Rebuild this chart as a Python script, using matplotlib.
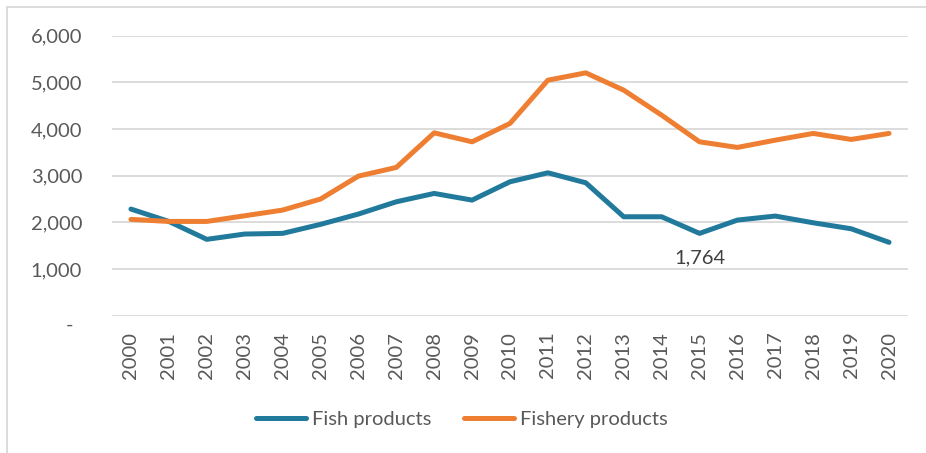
import numpy as np
import matplotlib.pyplot as plt
from matplotlib.patches import Rectangle
from matplotlib.transforms import ScaledTranslation

years = [str(y) for y in range(2000, 2021)]
fish = [2285, 2020, 1636, 1750, 1764, 1957, 2178, 2441, 2620, 2477, 2870,
        3062, 2848, 2120, 2120, 1764, 2049, 2135, 1991, 1863, 1572]
fishery = [2064, 2020, 2020, 2141, 2263, 2499, 2991, 3177, 3919, 3726, 4120,
           5047, 5204, 4833, 4298, 3726, 3606, 3762, 3906, 3777, 3906]
yticks = [0, 1000, 2000, 3000, 4000, 5000, 6000]
ytick_labels = ["-", "1,000", "2,000", "3,000", "4,000", "5,000", "6,000"]

plt.rcParams['font.family'] = ['Lato', 'DejaVu Sans']
text_col = '#595959'
blue = '#21799B'
orange = '#EE7F32'

fig = plt.figure(figsize=(9.26, 4.53), dpi=100)
ax = fig.add_axes([112 / 926, 1 - 315.7 / 453, (908 - 112) / 926, (315.7 - 35.7) / 453])

# chart area border (left and top edges visible)
fig.patches.append(Rectangle((7 / 926, -0.1), 1.2, 1 - 7 / 453 + 0.1,
                             transform=fig.transFigure, fill=False,
                             edgecolor='#D9D9D9', linewidth=1.3))

x = np.arange(len(years))
ax.plot(x, fish, color=blue, lw=3.6, solid_capstyle='round', label='Fish products')
ax.plot(x, fishery, color=orange, lw=3.6, solid_capstyle='round', label='Fishery products')

i15 = years.index('2015')
ax.annotate(f"{fish[i15]:,}", (x[i15], fish[i15]), xytext=(0, -17.5),
            textcoords='offset points', ha='center', va='center',
            fontsize=14.5, color='#404040')

ax.set_xlim(-0.5, len(years) - 0.5)
ax.set_ylim(0, 6000)
ax.set_yticks(yticks)
ax.set_yticklabels(ytick_labels)
ax.set_xticks(x)
ax.set_xticklabels(years, rotation=90)
ax.tick_params(axis='both', length=0, labelsize=14.5, labelcolor=text_col)
ax.tick_params(axis='y', pad=21.5)
ax.tick_params(axis='x', pad=11.5)

# accounting-style zero dash sits a bit left and lower
lab0 = ax.get_yticklabels()[0]
lab0.set_transform(lab0.get_transform() + ScaledTranslation(-0.09, -0.08, fig.dpi_scale_trans))

ax.grid(axis='y', color='#D9D9D9', lw=1.3)
ax.set_axisbelow(True)
for s in ax.spines.values():
    s.set_visible(False)

fig.legend(loc='center', bbox_to_anchor=(462 / 926, 1 - 419 / 453), ncol=2,
           frameon=False, fontsize=14.5, labelcolor=text_col,
           handlelength=2.5, handletextpad=0.3, columnspacing=1.6)

fig.savefig('out.png', dpi=100)
